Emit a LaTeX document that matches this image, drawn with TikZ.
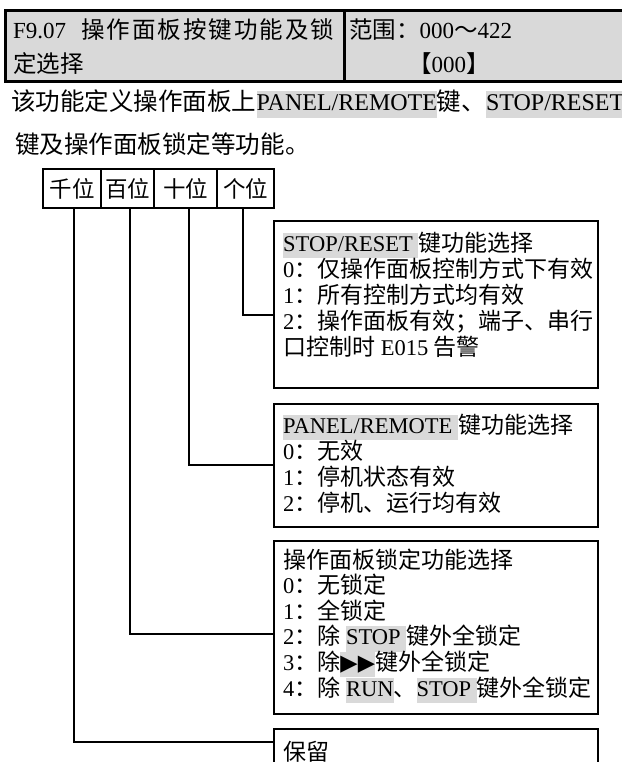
\documentclass[tikz,border=0pt]{standalone}
\usepackage{fontspec}
\setmainfont{Liberation Serif}
\newfontfamily\cjk{Noto Sans CJK SC}[Scale=1.0222]
\newfontfamily\symf{DejaVu Sans}
\definecolor{hlgray}{RGB}{217,217,217}
\definecolor{hdgray}{RGB}{217,217,217}
\newcommand\hlt[1]{{\setlength\fboxsep{0pt}\colorbox{hlgray}{\rule[-0.3em]{0pt}{1.12em}#1}}}
\newcommand\zh[1]{{\cjk #1}}
\tikzset{
  hdcell/.style={draw, line width=2.6pt, fill=hdgray, anchor=north west, inner sep=0pt},
  bitcell/.style={draw, line width=1.6pt, inner sep=0pt, minimum height=39pt, font={\fontsize{22}{24}\selectfont}},
  optbox/.style={draw, line width=1.6pt, anchor=north west, inner sep=0pt},
  ln/.style={anchor=base west, inner sep=0pt, font={\fontsize{22.5}{26}\selectfont}},
  hln/.style={anchor=base west, inner sep=0pt, font={\fontsize{23}{26}\selectfont}},
  pln/.style={anchor=base west, inner sep=0pt, font={\fontsize{24}{26}\selectfont}},
  wire/.style={line width=1.6pt}
}
\begin{document}
\begin{tikzpicture}[x=1pt,y=-1pt]
\useasboundingbox (0,0) rectangle (621,762);
% header table
\node[hdcell, minimum width=339pt, minimum height=71pt] (hleft) at (4,9) {};
\node[hdcell, minimum width=400pt, minimum height=71pt] (hright) at (343,9) {};
\node[hln] (ht1) at (13,39) {F9.07\hspace{15pt}{\cjk 操\kern2pt 作\kern2pt 面\kern2pt 板\kern2pt 按\kern2pt 键\kern2pt 功\kern2pt 能\kern2pt 及\kern2pt 锁}};
\node[hln] (ht2) at (13,73) {\zh{定选择}};
\node[hln] (hr1) at (349,39) {\zh{范围：}000\zh{～}422};
\node[hln] (hr2) at (408,73) {\zh{【}000\zh{】}};
% paragraph
\node[pln] (p1) at (11,111) {\zh{该功能定义操作面板上}\hlt{PANEL/REMOTE}\zh{键、}\hlt{STOP/RESET}};
\node[pln] (p2) at (15,154) {\zh{键及操作面板锁定等功能。}};
% bit cells
\node[bitcell, minimum width=58pt] (qian) at (72,188.5) {\zh{千位}};
\node[bitcell, minimum width=53pt] (bai) at (127.5,188.5) {\zh{百位}};
\node[bitcell, minimum width=63pt] (shi) at (185.5,188.5) {\zh{十位}};
\node[bitcell, minimum width=57pt] (ge) at (245.5,188.5) {\zh{个位}};
% option boxes
\node[optbox, minimum width=324pt, minimum height=167pt] (b1) at (273,220) {};
\node[optbox, minimum width=324pt, minimum height=123pt] (b2) at (273,403) {};
\node[optbox, minimum width=324pt, minimum height=173pt] (b3) at (273,540) {};
\node[optbox, minimum width=324pt, minimum height=80pt] (b4) at (273,728) {};
% box 1 text
\node[ln] (t11) at (283,251) {\hlt{STOP/RESET\ }\zh{键功能选择}};
\node[ln] (t12) at (283,277) {0\zh{：}{\cjk\makebox[272pt][s]{仅\hfil 操\hfil 作\hfil 面\hfil 板\hfil 控\hfil 制\hfil 方\hfil 式\hfil 下\hfil 有\hfil 效}}};
\node[ln] (t13) at (283,303) {1\zh{：所有控制方式均有效}};
\node[ln] (t14) at (283,329) {2\zh{：操作面板有效；端子、串行}};
\node[ln] (t15) at (283,355) {\zh{口控制时} E015 \zh{告警}};
% box 2 text
\node[ln] (t21) at (283,433) {\hlt{PANEL/REMOTE\ }\zh{键功能选择}};
\node[ln] (t22) at (283,459) {0\zh{：无效}};
\node[ln] (t23) at (283,485) {1\zh{：停机状态有效}};
\node[ln] (t24) at (283,511) {2\zh{：停机、运行均有效}};
% box 3 text
\node[ln] (t31) at (283,568) {\zh{操作面板锁定功能选择}};
\node[ln] (t32) at (283,593.6) {0\zh{：无锁定}};
\node[ln] (t33) at (283,619.2) {1\zh{：全锁定}};
\node[ln] (t34) at (283,644.8) {2\zh{：除} \hlt{STOP\ }\zh{键外全锁定}};
\node[ln] (t35) at (283,670.4) {3\zh{：除}\hlt{\symf ▶▶}\zh{键外全锁定}};
\node[ln] (t36) at (283,696) {4\zh{：除} \hlt{RUN}\zh{、}\hlt{STOP\ }\zh{键外全锁定}};
% box 4 text
\node[ln] (t41) at (283,760) {\zh{保留}};
% connector ends
\coordinate (e1) at (273,315);
\coordinate (e2) at (273,465);
\coordinate (e3) at (273,634);
\coordinate (e4) at (273,742);
\draw[wire] ([xshift=-2.5pt]ge.south) |- (e1);
\draw[wire] ([xshift=3.5pt]shi.south) |- (e2);
\draw[wire] ([xshift=2.5pt]bai.south) |- (e3);
\draw[wire] ([xshift=2pt]qian.south) |- (e4);
\end{tikzpicture}
\end{document}
